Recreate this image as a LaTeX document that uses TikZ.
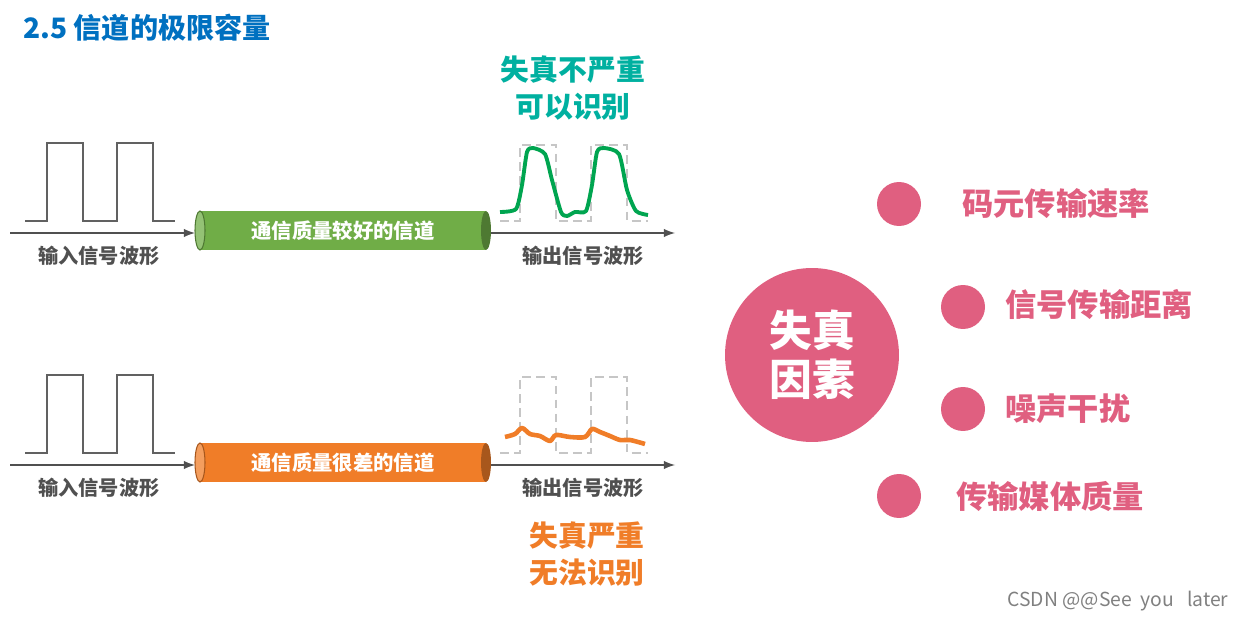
\documentclass[tikz,border=0pt]{standalone}
\usepackage{fontspec}
\setmainfont{Noto Sans CJK SC}
\usetikzlibrary{calc}
\definecolor{titleblue}{RGB}{0,112,192}
\definecolor{goodgreen}{RGB}{112,173,71}
\definecolor{badorange}{RGB}{240,125,40}
\definecolor{okteal}{RGB}{0,176,160}
\definecolor{wavegreen}{RGB}{0,165,80}
\definecolor{pinkred}{RGB}{224,95,128}
\definecolor{darkgray}{RGB}{80,80,80}
\tikzset{
  wavelab/.style={text=darkgray,font=\fontsize{11.5}{13}\selectfont\bfseries},
  pulse/.style={draw=darkgray!90,line width=1.6pt},
  ghost/.style={draw=gray!45,dash pattern=on 5pt off 3pt,line width=1.4pt},
  axis/.style={draw=darkgray,line width=1.2pt,-latex},
  dot/.style={circle,fill=pinkred,inner sep=0pt,minimum size=0.88cm},
  factor/.style={text=pinkred,font=\fontsize{17.8}{20}\selectfont\bfseries,anchor=west}
}
\begin{document}
\begin{tikzpicture}[x=0.02cm,y=-0.02cm]
  \useasboundingbox (0,0) rectangle (1245,621);
  \node (title) at (147,28) [text=titleblue,font=\fontsize{16}{18}\selectfont\bfseries] {2.5 信道的极限容量};

  % two channels: good (top) and bad (bottom)
  \foreach \dy/\col/\name/\txt in {0/goodgreen/good/通信质量较好的信道,232/badorange/bad/通信质量很差的信道}{
    \begin{scope}[yshift=-\dy*0.02cm]
      \draw[pulse] (25,221) -- (47,221) -- (47,143) -- (83,143) -- (83,221) -- (117,221)
        -- (117,143) -- (153,143) -- (153,221) -- (175,221);
      \draw[ghost] (500,221) -- (520,221) -- (520,145) -- (556,145) -- (556,221) -- (591,221)
        -- (591,145) -- (627,145) -- (627,221) -- (648,221);
      \coordinate (\name in) at (10,233);
      \coordinate (\name out) at (675,233);
      \fill[\col] (200,211) rectangle (486,250);
      \fill[\col!70!black] (486,230.5) ellipse (5 and 19.5);
      \fill[\col!75!white] (200,230.5) ellipse (5 and 19.5);
      \draw[\col!70!black,line width=0.6pt] (200,230.5) ellipse (5 and 19.5);
      \node (\name ch) at (343,230.5) [text=white,font=\fontsize{11.6}{13}\selectfont\bfseries] {\txt};
      \coordinate (\name l) at (195,233);
      \coordinate (\name r) at (491,233);
      \draw[axis] (\name in) -- (\name l);
      \draw[axis] (\name r) -- (\name out);
      \node (\name inlab) at (99,256) [wavelab] {输入信号波形};
      \node (\name outlab) at (583,256) [wavelab] {输出信号波形};
    \end{scope}
  }

  % distorted outputs
  \draw[wavegreen,line width=2.2pt,line join=round] plot[smooth,tension=0.4] coordinates {
    (500,212) (516,209) (522,185) (527,152) (533,148) (545,154) (552,180) (561,212) (567,216)
    (575,212) (586,211) (592,185) (597,152) (604,148) (619,154) (627,190) (636,211) (648,215)};
  \draw[badorange,line width=2.6pt,line join=round] plot[smooth,tension=0.5] coordinates {
    (505,437) (515,434) (522,428) (530,434) (540,436) (550,441) (556,435) (570,437) (585,437)
    (592,429) (600,432) (610,436) (620,440) (630,440) (645,444)};

  \node (goodnote) at (573,88) [text=okteal,font=\fontsize{16.4}{21}\selectfont\bfseries,align=center] {失真不严重\\可以识别};
  \node (badnote) at (587,554) [text=badorange,font=\fontsize{16.4}{21}\selectfont\bfseries,align=center] {失真严重\\无法识别};

  % factors
  \node (cause) at (812,355) [circle,fill=pinkred,minimum size=3.48cm,inner sep=0pt,text=white,
    font=\fontsize{24.3}{28}\selectfont\bfseries,align=center] {失真\\因素};
  \node (d1) at (899,204) [dot] {};
  \node (d2) at (963,307) [dot] {};
  \node (d3) at (963,409) [dot] {};
  \node (d4) at (899,496) [dot] {};
  \node (f1) at (956,204) [factor] {码元传输速率};
  \node (f2) at (999,305) [factor] {信号传输距离};
  \node (f3) at (999,409) [factor] {噪声干扰};
  \node (f4) at (950,496) [factor] {传输媒体质量};

  \node (mark) at (1118,601) [text=gray,font=\fontsize{11}{13}\selectfont] {CSDN @@See\ \ you\ \ \ later};
\end{tikzpicture}
\end{document}
